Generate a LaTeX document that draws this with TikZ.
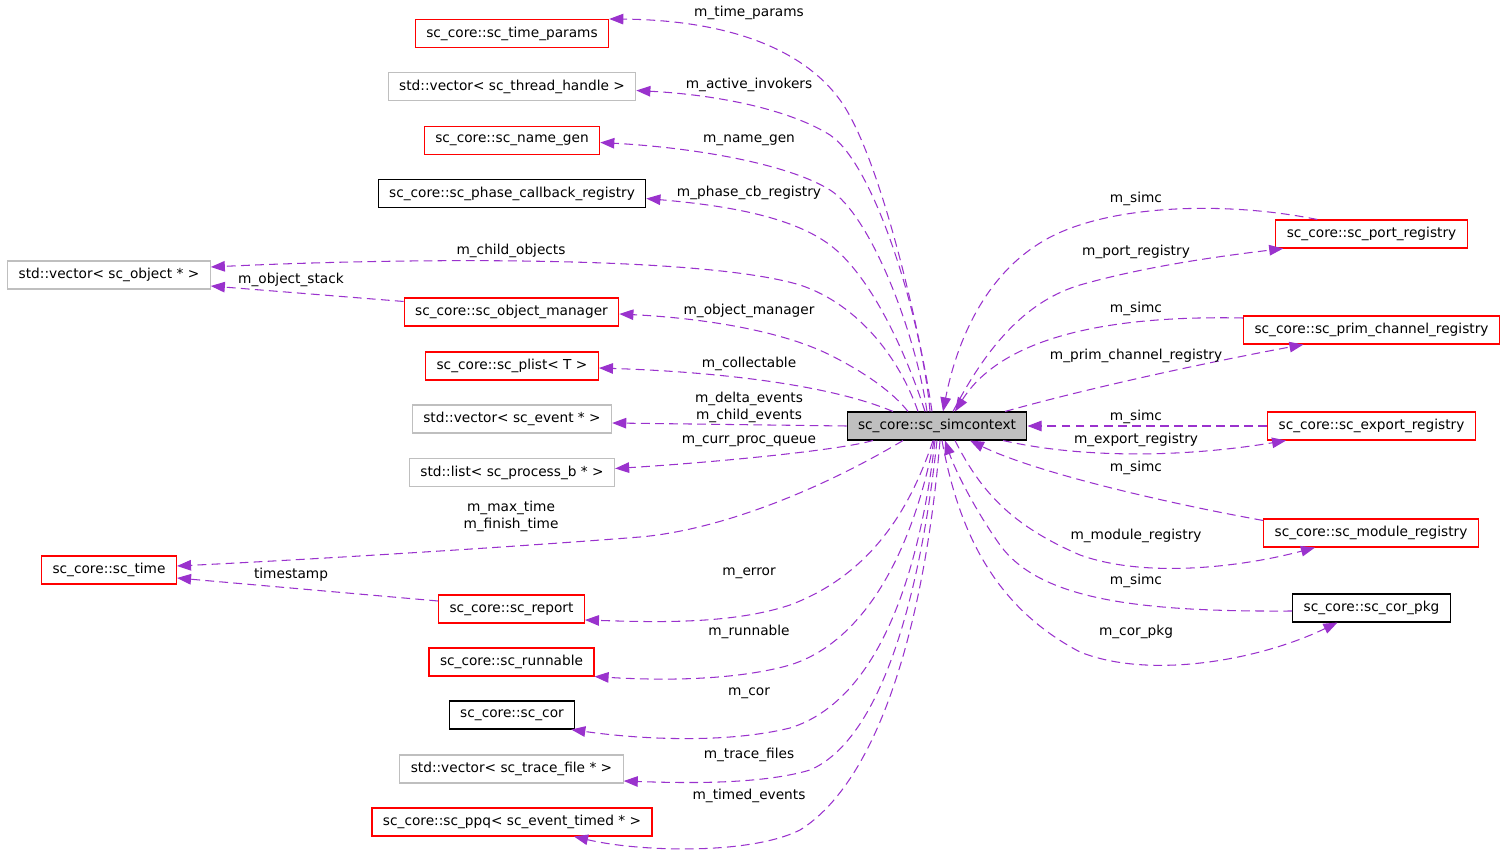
\documentclass[tikz,border=0pt]{standalone}
\usepackage{fontspec}
\setmainfont{DejaVu Sans}
\usepackage{tikz}
\usetikzlibrary{arrows.meta}
\usetikzlibrary{calc}

\definecolor{linkcol}{HTML}{9A32CD}
\definecolor{boxred}{HTML}{FF0000}
\definecolor{boxgray}{HTML}{BFBFBF}

\tikzset{
  cls/.style={draw, rectangle, line width=0.6pt, minimum height=0.56cm,
    inner xsep=0.22cm, inner ysep=0pt, font=\fontsize{7.8}{9.5}\selectfont},
  redcls/.style={cls, draw=boxred},
  graycls/.style={cls, draw=boxgray},
  blackcls/.style={cls, draw=black},
  lbl/.style={inner sep=0pt, align=center, font=\fontsize{7.8}{9.5}\selectfont},
  link/.style={draw=linkcol, line width=0.6pt, dash pattern=on 5pt off 3pt,
    -{Triangle[length=8pt,width=6pt,fill=linkcol]}}
}

\begin{document}
\begin{tikzpicture}[x=0.02cm, y=-0.02cm]
  \useasboundingbox (0,0) rectangle (1504,854);

  % classes
  \begin{scope}
    \node[cls, draw=black, fill=boxgray] (simctx) at (937,426) {sc\_core::sc\_simcontext};

    \node[redcls]   (timeparams) at (512,33.5) {sc\_core::sc\_time\_params};
    \node[graycls]  (invokers)   at (512,86.5) {std::vector< sc\_thread\_handle >};
    \node[redcls]   (namegen)    at (512,140.5) {sc\_core::sc\_name\_gen};
    \node[blackcls] (phasecb)    at (512,193.5) {sc\_core::sc\_phase\_callback\_registry};
    \node[graycls]  (objvec)     at (109,275) {std::vector< sc\_object * >};
    \node[redcls]   (objmgr)     at (511.5,312) {sc\_core::sc\_object\_manager};
    \node[redcls]   (plist)      at (512,366) {sc\_core::sc\_plist< T >};
    \node[graycls]  (eventvec)   at (512,419) {std::vector< sc\_event * >};
    \node[graycls]  (proclist)   at (512,472.5) {std::list< sc\_process\_b * >};
    \node[redcls]   (sctime)     at (109,570) {sc\_core::sc\_time};
    \node[redcls]   (report)     at (511.5,609) {sc\_core::sc\_report};
    \node[redcls]   (runnable)   at (511.5,662) {sc\_core::sc\_runnable};
    \node[blackcls] (sccor)      at (512,715) {sc\_core::sc\_cor};
    \node[graycls]  (tracevec)   at (511.5,769) {std::vector< sc\_trace\_file * >};
    \node[redcls]   (ppq)        at (512,822) {sc\_core::sc\_ppq< sc\_event\_timed * >};

    \node[redcls]   (portreg)    at (1371.5,234) {sc\_core::sc\_port\_registry};
    \node[redcls]   (primreg)    at (1371.5,330) {sc\_core::sc\_prim\_channel\_registry};
    \node[redcls]   (exportreg)  at (1371.5,426) {sc\_core::sc\_export\_registry};
    \node[redcls]   (modulereg)  at (1371,533) {sc\_core::sc\_module\_registry};
    \node[blackcls] (corpkg)     at (1371.5,608) {sc\_core::sc\_cor\_pkg};
  \end{scope}

  % members of the simcontext, left side
  \path[link] ($(simctx.north)+(-5,0)$) .. controls (920,330) and (880,155) .. (840,100)
    .. controls (800,45) and (720,20) .. (timeparams.north east);
  \path[link] ($(simctx.north)+(-7,0)$) .. controls (922,320) and (875,165) .. (830,135)
    .. controls (790,110) and (720,95) .. ($(invokers.east)+(0,4)$);
  \path[link] ($(simctx.north)+(-10,0)$) .. controls (915,330) and (870,215) .. (830,190)
    .. controls (790,165) and (700,148) .. ($(namegen.east)+(0,2)$);
  \path[link] ($(simctx.north)+(-12,0)$) .. controls (905,350) and (870,275) .. (830,245)
    .. controls (790,215) and (720,205) .. ($(phasecb.east)+(0,5)$);
  \path[link] ($(simctx.north)+(-19,0)$) .. controls (900,360) and (860,305) .. (800,285)
    .. controls (700,255) and (400,258) .. ($(objvec.east)+(0,-8)$);
  \path[link] ($(simctx.north)+(-29,0)$) .. controls (895,395) and (870,375) .. (830,355)
    .. controls (780,330) and (700,318) .. ($(objmgr.east)+(0,2)$);
  \path[link] ($(simctx.north)+(-44,0)$) .. controls (830,385) and (720,372) .. ($(plist.east)+(0,2)$);
  \path[link] (simctx.west) -- ($(eventvec.east)+(0,4)$);
  \path[link] ($(simctx.south)+(-64,0)$) .. controls (840,450) and (720,462) .. ($(proclist.east)+(0,-4)$);
  \path[link] ($(simctx.south)+(-34,0)$) .. controls (820,490) and (720,530) .. (640,537)
    .. controls (500,548) and (300,560) .. ($(sctime.east)+(0,-4)$);
  \path[link] ($(simctx.south)+(-4,0)$) .. controls (910,510) and (870,575) .. (790,605)
    .. controls (730,625) and (650,622) .. ($(report.east)+(0,11)$);
  \path[link] ($(simctx.south)+(-3,0)$) .. controls (915,540) and (870,640) .. (790,665)
    .. controls (730,682) and (650,680) .. (runnable.south east);
  \path[link] ($(simctx.south)+(-2,0)$) .. controls (920,570) and (880,700) .. (790,728)
    .. controls (720,745) and (630,738) .. ($(sccor.south east)+(-4,0)$);
  \path[link] (simctx.south) .. controls (920,600) and (880,740) .. (810,770)
    .. controls (760,785) and (680,783) .. ($(tracevec.east)+(0,12)$);
  \path[link] ($(simctx.south)+(3,0)$) .. controls (925,620) and (880,780) .. (800,830)
    .. controls (750,855) and (640,852) .. ($(ppq.south)+(62,0)$);

  % links between the other classes
  \path[link] ($(objmgr.north west)+(0,4)$) -- ($(objvec.east)+(0,11)$);
  \path[link] ($(report.west)+(0,-8)$) -- ($(sctime.east)+(0,8)$);

  % registries, right side
  \path[link] ($(portreg.north west)+(42,0)$) .. controls (1220,200) and (1100,205) .. (1040,243)
    .. controls (980,280) and (955,350) .. ($(simctx.north)+(6,0)$);
  \path[link] ($(simctx.north)+(16,0)$) .. controls (990,340) and (1030,300) .. (1080,285)
    .. controls (1150,265) and (1230,255) .. ($(portreg.south west)+(8,0)$);
  \path[link] ($(primreg.west)+(0,-12)$) .. controls (1100,315) and (1000,340) .. ($(simctx.north)+(18,0)$);
  \path[link] ($(simctx.north)+(68,0)$) .. controls (1100,385) and (1220,360) .. ($(primreg.south)+(-68,0)$);
  \path[link] (exportreg.west) -- (simctx.east);
  \path[link] ($(simctx.south)+(66,0)$) .. controls (1080,458) and (1180,458) .. ($(exportreg.south west)+(19,0)$);
  \path[link] ($(modulereg.north west)+(0,2)$) .. controls (1150,500) and (1030,470) .. ($(simctx.south)+(33,0)$);
  \path[link] ($(simctx.south)+(18,0)$) .. controls (980,490) and (1010,525) .. (1080,555)
    .. controls (1150,580) and (1250,565) .. ($(modulereg.south)+(-56,0)$);
  \path[link] ($(corpkg.west)+(0,3)$) .. controls (1140,612) and (1040,600) .. (1000,545)
    .. controls (975,510) and (955,470) .. ($(simctx.south)+(8,0)$);
  \path[link] ($(simctx.south)+(5,0)$) .. controls (960,540) and (1000,610) .. (1080,652)
    .. controls (1150,680) and (1260,660) .. ($(corpkg.south)+(-34,0)$);

  % member names
  \begin{scope}[every node/.style={lbl}]
    \node (lTimeParams) at (749,13) {m\_time\_params};
    \node (lInvokers) at (749,85) {m\_active\_invokers};
    \node (lNameGen) at (749,140) {m\_name\_gen};
    \node (lPhaseCb) at (749,193) {m\_phase\_cb\_registry};
    \node (lChildObj) at (511,251) {m\_child\_objects};
    \node (lObjStack) at (291,280) {m\_object\_stack};
    \node (lObjMgr) at (749,311) {m\_object\_manager};
    \node (lCollect) at (749,364) {m\_collectable};
    \node (lEvents) at (749,407.5) {m\_delta\_events\\m\_child\_events};
    \node (lProcQ) at (749,441) {m\_curr\_proc\_queue};
    \node (lTime) at (511,516.5) {m\_max\_time\\m\_finish\_time};
    \node (lStamp) at (291,575) {timestamp};
    \node (lError) at (749,573) {m\_error};
    \node (lRunnable) at (749,632) {m\_runnable};
    \node (lCor) at (749,693) {m\_cor};
    \node (lTrace) at (749,755) {m\_trace\_files};
    \node (lTimed) at (749,796) {m\_timed\_events};

    \node (lSimcA) at (1136,199) {m\_simc};
    \node (lPortReg) at (1136,252) {m\_port\_registry};
    \node (lSimcB) at (1136,309) {m\_simc};
    \node (lPrimReg) at (1136,356) {m\_prim\_channel\_registry};
    \node (lSimcC) at (1136,417) {m\_simc};
    \node (lExportReg) at (1136,440) {m\_export\_registry};
    \node (lSimcD) at (1136,468) {m\_simc};
    \node (lModuleReg) at (1136,536) {m\_module\_registry};
    \node (lSimcE) at (1136,581) {m\_simc};
    \node (lCorPkg) at (1136,632) {m\_cor\_pkg};
  \end{scope}
\end{tikzpicture}
\end{document}
